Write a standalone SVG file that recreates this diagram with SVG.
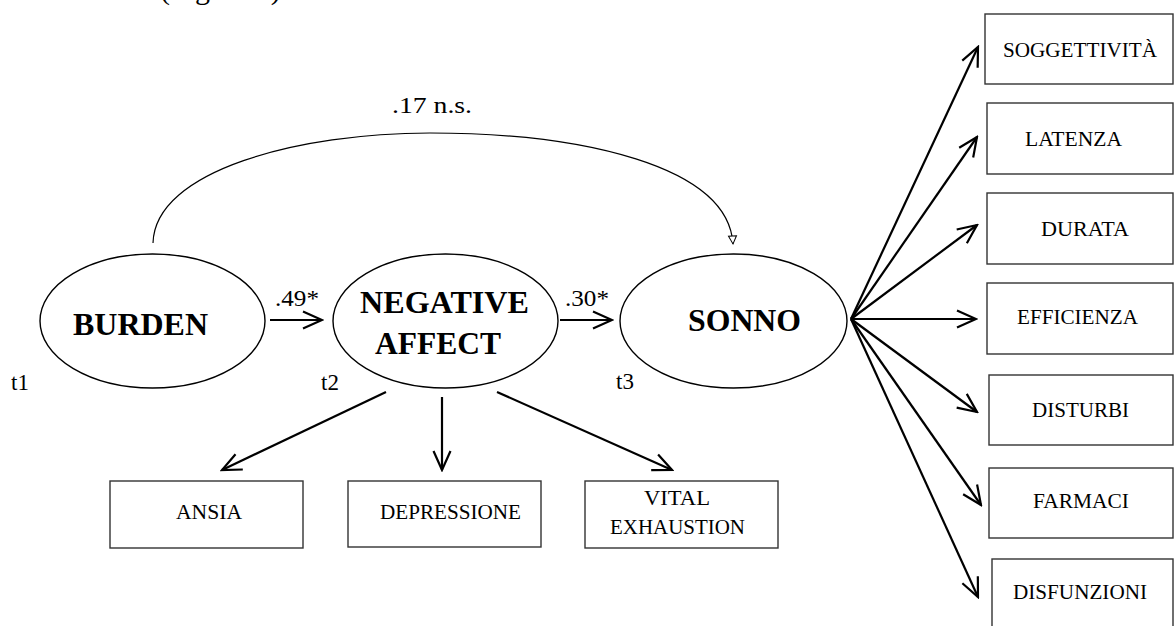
<svg xmlns="http://www.w3.org/2000/svg" width="1174" height="626" viewBox="0 0 1174 626">
<style>
  .ell { fill: #fff; stroke: #000; stroke-width: 1.4; }
  .box { fill: #fff; stroke: #333; stroke-width: 1.4; }
  .big { font-family: "Liberation Serif", "Times New Roman", serif; font-weight: bold; font-size: 32px; fill: #000; }
  .lbl { font-family: "Liberation Serif", "Times New Roman", serif; font-size: 23px; fill: #000; }
  .box-t { font-family: "Liberation Serif", "Times New Roman", serif; font-size: 20px; fill: #000; }
  .arr { fill: none; stroke: #000; stroke-width: 2.2; marker-end: url(#chev); }
  .curve { fill: none; stroke: #000; stroke-width: 1.2; marker-end: url(#tri); }
</style>
<defs>
  <marker id="chev" markerUnits="userSpaceOnUse" viewBox="-22 -12 24 24" refX="0" refY="0" markerWidth="24" markerHeight="24" orient="auto">
    <path d="M-19,-8.5 L0,0 L-19,8.5" fill="none" stroke="#000" stroke-width="2.2" stroke-linejoin="miter"/>
  </marker>
  <marker id="tri" markerUnits="userSpaceOnUse" viewBox="-10 -6 12 12" refX="0" refY="0" markerWidth="12" markerHeight="12" orient="auto">
    <path d="M-8,-4 L0,0 L-8,4 Z" fill="#fff" stroke="#000" stroke-width="1"/>
  </marker>
</defs>
<rect width="1174" height="626" fill="#fff"/>

<text class="lbl" x="160" y="-1" style="font-size:30px">(Figura 2)</text>

<g id="connectors">
  <path class="curve" d="M153,243 C155,170 300,133 430,133 C580,133 728,165 733,244"/>
  <line class="arr" x1="270" y1="320" x2="322" y2="320"/>
  <line class="arr" x1="560" y1="320" x2="612" y2="320"/>
  <line class="arr" x1="386" y1="392" x2="222" y2="470"/>
  <line class="arr" x1="442" y1="397" x2="442" y2="470"/>
  <line class="arr" x1="497" y1="392" x2="672" y2="470"/>
  <line class="arr" x1="851" y1="319" x2="978" y2="47"/>
  <line class="arr" x1="851" y1="319" x2="977" y2="137"/>
  <line class="arr" x1="851" y1="319" x2="977" y2="225"/>
  <line class="arr" x1="851" y1="319" x2="976" y2="319"/>
  <line class="arr" x1="851" y1="319" x2="977" y2="412"/>
  <line class="arr" x1="851" y1="319" x2="981" y2="505"/>
  <line class="arr" x1="851" y1="319" x2="978" y2="597"/>
  <text class="lbl" x="392" y="113" textLength="80" lengthAdjust="spacingAndGlyphs">.17 n.s.</text>
  <text class="lbl" x="275" y="306" textLength="44" lengthAdjust="spacingAndGlyphs">.49*</text>
  <text class="lbl" x="565" y="306" textLength="44" lengthAdjust="spacingAndGlyphs">.30*</text>
</g>

<g id="burden">
  <ellipse class="ell" cx="152.5" cy="321" rx="112.5" ry="67"/>
  <text class="big" x="73" y="335" textLength="135" lengthAdjust="spacingAndGlyphs">BURDEN</text>
  <text class="lbl" x="11" y="390">t1</text>
</g>
<g id="negative-affect">
  <ellipse class="ell" cx="445.5" cy="321" rx="112.5" ry="67"/>
  <text class="big" x="360" y="313" textLength="169" lengthAdjust="spacingAndGlyphs">NEGATIVE</text>
  <text class="big" x="375" y="354" textLength="126" lengthAdjust="spacingAndGlyphs">AFFECT</text>
  <text class="lbl" x="321" y="390">t2</text>
</g>
<g id="sonno">
  <ellipse class="ell" cx="733.5" cy="321" rx="113.5" ry="67"/>
  <text class="big" x="688" y="331" textLength="113" lengthAdjust="spacingAndGlyphs">SONNO</text>
  <text class="lbl" x="616" y="389">t3</text>
</g>

<g id="ansia">
  <rect class="box" x="110" y="481" width="193" height="67"/>
  <text class="box-t" x="176" y="519" textLength="66" lengthAdjust="spacingAndGlyphs">ANSIA</text>
</g>
<g id="depressione">
  <rect class="box" x="348" y="481" width="193" height="66"/>
  <text class="box-t" x="380" y="519" textLength="141" lengthAdjust="spacingAndGlyphs">DEPRESSIONE</text>
</g>
<g id="vital-exhaustion">
  <rect class="box" x="585" y="481" width="193" height="67"/>
  <text class="box-t" x="644" y="505" textLength="66" lengthAdjust="spacingAndGlyphs">VITAL</text>
  <text class="box-t" x="610" y="534" textLength="135" lengthAdjust="spacingAndGlyphs">EXHAUSTION</text>
</g>

<g id="soggettivita">
  <rect class="box" x="985" y="14" width="188" height="70"/>
  <text class="box-t" x="1003" y="57" textLength="154" lengthAdjust="spacingAndGlyphs">SOGGETTIVITÀ</text>
</g>
<g id="latenza">
  <rect class="box" x="987" y="103" width="186" height="71"/>
  <text class="box-t" x="1025" y="146" textLength="97" lengthAdjust="spacingAndGlyphs">LATENZA</text>
</g>
<g id="durata">
  <rect class="box" x="987" y="193" width="186" height="71"/>
  <text class="box-t" x="1041" y="236" textLength="88" lengthAdjust="spacingAndGlyphs">DURATA</text>
</g>
<g id="efficienza">
  <rect class="box" x="987" y="283" width="186" height="71"/>
  <text class="box-t" x="1017" y="324" textLength="121" lengthAdjust="spacingAndGlyphs">EFFICIENZA</text>
</g>
<g id="disturbi">
  <rect class="box" x="989" y="375" width="184" height="70"/>
  <text class="box-t" x="1032" y="417" textLength="97" lengthAdjust="spacingAndGlyphs">DISTURBI</text>
</g>
<g id="farmaci">
  <rect class="box" x="989" y="468" width="184" height="70"/>
  <text class="box-t" x="1033" y="508" textLength="96" lengthAdjust="spacingAndGlyphs">FARMACI</text>
</g>
<g id="disfunzioni">
  <rect class="box" x="992" y="559" width="181" height="80"/>
  <text class="box-t" x="1013" y="599" textLength="134" lengthAdjust="spacingAndGlyphs">DISFUNZIONI</text>
</g>
</svg>
